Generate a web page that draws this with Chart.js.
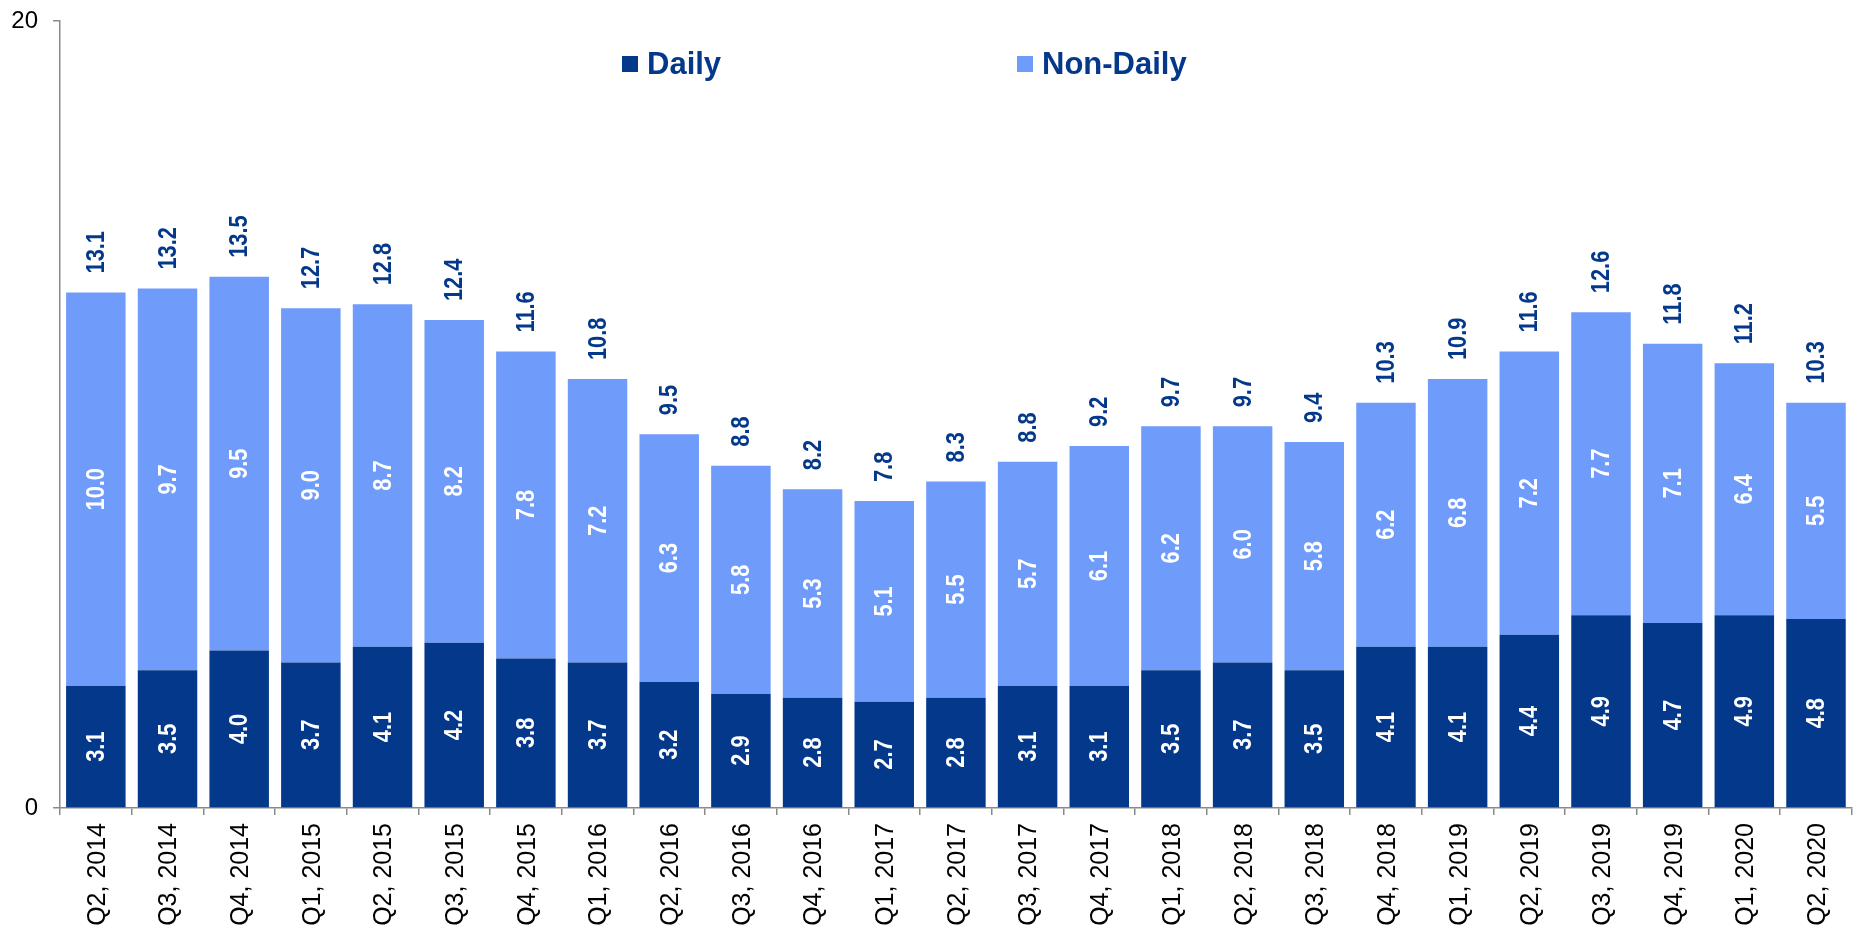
<!DOCTYPE html>
<html>
<head>
<meta charset="utf-8">
<script src="https://cdn.jsdelivr.net/npm/chart.js@4.4.1/dist/chart.umd.min.js"></script>
<style>
html,body{margin:0;padding:0;background:#ffffff;overflow:hidden;}
#wrap{position:relative;width:1854px;height:925px;}
</style>
</head>
<body>
<div id="wrap"><canvas id="c" width="1854" height="925"></canvas></div>
<script>
// ---- data ----
const categories = ["Q2, 2014","Q3, 2014","Q4, 2014","Q1, 2015","Q2, 2015","Q3, 2015","Q4, 2015","Q1, 2016","Q2, 2016","Q3, 2016","Q4, 2016","Q1, 2017","Q2, 2017","Q3, 2017","Q4, 2017","Q1, 2018","Q2, 2018","Q3, 2018","Q4, 2018","Q1, 2019","Q2, 2019","Q3, 2019","Q4, 2019","Q1, 2020","Q2, 2020"];
const dailyValues    = [3.1,3.5,4.0,3.7,4.1,4.2,3.8,3.7,3.2,2.9,2.8,2.7,2.8,3.1,3.1,3.5,3.7,3.5,4.1,4.1,4.4,4.9,4.7,4.9,4.8];
const nonDailyValues = [10.0,9.7,9.5,9.0,8.7,8.2,7.8,7.2,6.3,5.8,5.3,5.1,5.5,5.7,6.1,6.2,6.0,5.8,6.2,6.8,7.2,7.7,7.1,6.4,5.5];
const totalValues    = [13.1,13.2,13.5,12.7,12.8,12.4,11.6,10.8,9.5,8.8,8.2,7.8,8.3,8.8,9.2,9.7,9.7,9.4,10.3,10.9,11.6,12.6,11.8,11.2,10.3];
const seriesNames = ["Daily","Non-Daily"];
const yTickValues = [0,20];

// ---- styles ----
const DARK = '#03388a';
const LIGHT = '#6f9bfb';
const AXIS = '#8a8a8a';
const REG = '"Liberation Sans", Arial, sans-serif';

const labelPlugin = {
  id: 'barLabels',
  afterDatasetsDraw(chart){
    const ctx = chart.ctx;
    const metas = [chart.getDatasetMeta(0), chart.getDatasetMeta(1)];
    const vals = [dailyValues, nonDailyValues];
    ctx.save();
    ctx.font = 'bold 26px ' + REG;
    ctx.textBaseline = 'middle';
    ctx.textAlign = 'center';
    metas.forEach((meta, di) => {
      meta.data.forEach((bar, i) => {
        const cy = (bar.y + bar.base) / 2;
        ctx.save();
        ctx.translate(bar.x + 1, cy);
        ctx.rotate(-Math.PI/2);
        ctx.scale(0.84, 1);
        ctx.fillStyle = '#ffffff';
        ctx.fillText(vals[di][i].toFixed(1), 0, 0);
        ctx.restore();
      });
    });
    ctx.textAlign = 'left';
    metas[1].data.forEach((bar, i) => {
      ctx.save();
      ctx.translate(bar.x + 1, bar.y - 19);
      ctx.rotate(-Math.PI/2);
      ctx.scale(0.84, 1);
      ctx.fillStyle = DARK;
      ctx.fillText(totalValues[i].toFixed(1), 0, 0);
      ctx.restore();
    });
    ctx.restore();
  }
};

const legendPlugin = {
  id: 'innerLegend',
  afterDraw(chart){
    const ctx = chart.ctx;
    const items = [{x: 622, color: DARK, text: seriesNames[0]}, {x: 1017, color: LIGHT, text: seriesNames[1]}];
    ctx.save();
    ctx.font = 'bold 31px ' + REG;
    ctx.textBaseline = 'alphabetic';
    ctx.textAlign = 'left';
    items.forEach(it => {
      ctx.fillStyle = it.color;
      ctx.fillRect(it.x, 56, 16, 16);
      ctx.fillStyle = DARK;
      ctx.fillText(it.text, it.x + 25, 74);
    });
    ctx.restore();
  }
};

new Chart(document.getElementById('c'), {
  type: 'bar',
  data: {
    labels: categories,
    datasets: [
      {label: seriesNames[0], data: dailyValues, backgroundColor: DARK, borderWidth: 0},
      {label: seriesNames[1], data: nonDailyValues, backgroundColor: LIGHT, borderWidth: 0}
    ]
  },
  options: {
    responsive: false,
    animation: false,
    devicePixelRatio: 1,
    layout: {padding: {top: 21, right: -3, left: 0, bottom: 0}},
    datasets: {bar: {categoryPercentage: 1.0, barPercentage: 0.83}},
    plugins: {legend: {display: false}, tooltip: {enabled: false}, title: {display: false}},
    scales: {
      x: {
        stacked: true,
        offset: true,
        grid: {display: true, drawOnChartArea: false, drawTicks: true, tickLength: 7, color: AXIS, lineWidth: 1.5, offset: true},
        border: {display: true, color: AXIS, width: 1.5},
        ticks: {autoSkip: false, minRotation: 90, maxRotation: 90, padding: 8, labelOffset: 2, color: '#000000', font: {family: REG, size: 25}},
        afterFit(scale){ scale.height = 117; }
      },
      y: {
        stacked: true,
        min: yTickValues[0],
        max: yTickValues[yTickValues.length-1],
        afterBuildTicks(scale){ scale.ticks = yTickValues.map(v => ({value: v})); },
        grid: {display: true, drawOnChartArea: false, drawTicks: true, tickLength: 7, color: AXIS, lineWidth: 1.5},
        border: {display: true, color: AXIS, width: 1.5},
        ticks: {padding: 15, color: '#000000', font: {family: REG, size: 24}},
        afterFit(scale){ scale.width = 60; scale.paddingTop = 0; scale.paddingBottom = 0; }
      }
    }
  },
  plugins: [labelPlugin, legendPlugin]
});
</script>
</body>
</html>
